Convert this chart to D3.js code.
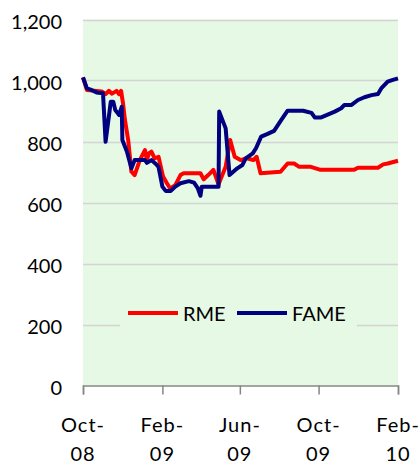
<!DOCTYPE html>
<html>
<head>
<meta charset="utf-8">
<script src="https://cdn.jsdelivr.net/npm/d3@7"></script>
<style>
  html, body { margin: 0; padding: 0; background: #ffffff; }
  svg { display: block; }
  text { font-family: Lato, "Open Sans", "Liberation Sans", sans-serif; fill: #000; }
</style>
</head>
<body>
<svg id="chart" width="419" height="464"></svg>
<script>
// ---- data ----
const seriesNames = ["RME", "FAME"];
const rmeDates = ["2008-10-01","2008-10-07","2008-10-22","2008-10-30","2008-11-05","2008-11-10","2008-11-15","2008-11-22","2008-11-26","2008-11-29","2008-12-02","2008-12-05","2008-12-10","2008-12-15","2008-12-20","2008-12-28","2009-01-05","2009-01-08","2009-01-11","2009-01-15","2009-01-20","2009-01-26","2009-02-02","2009-02-08","2009-02-13","2009-02-21","2009-03-01","2009-03-06","2009-04-01","2009-04-06","2009-04-13","2009-04-21","2009-04-29","2009-05-10","2009-05-17","2009-05-24","2009-06-02","2009-06-12","2009-06-22","2009-06-27","2009-07-03","2009-08-03","2009-08-14","2009-08-24","2009-09-01","2009-09-19","2009-10-04","2009-11-25","2009-12-01","2010-01-01","2010-01-09","2010-01-16","2010-02-01"];
const rmeValues = [1010,969,966,964,955,966,957,966,955,966,925,870,805,701,690,739,772,739,761,767,745,750,685,663,646,657,690,696,696,676,690,707,660,717,805,750,739,745,739,750,696,701,728,728,717,717,707,707,714,714,725,728,737];
const fameDates = ["2008-10-01","2008-10-07","2008-10-14","2008-10-22","2008-11-01","2008-11-05","2008-11-13","2008-11-17","2008-11-20","2008-11-26","2008-11-30","2008-12-01","2008-12-08","2008-12-15","2008-12-20","2009-01-05","2009-01-08","2009-01-15","2009-01-21","2009-01-26","2009-02-01","2009-02-06","2009-02-14","2009-02-21","2009-03-01","2009-03-14","2009-03-22","2009-03-28","2009-04-01","2009-04-03","2009-04-29","2009-04-30","2009-05-10","2009-05-16","2009-05-28","2009-06-05","2009-06-10","2009-06-21","2009-06-26","2009-07-04","2009-07-14","2009-07-24","2009-08-04","2009-08-14","2009-09-07","2009-09-20","2009-09-25","2009-10-05","2009-10-16","2009-10-26","2009-11-05","2009-11-10","2009-11-21","2009-12-01","2009-12-11","2009-12-22","2010-01-01","2010-01-06","2010-01-16","2010-01-24","2010-02-01"];
const fameValues = [1010,974,969,961,958,799,930,930,903,887,914,805,767,712,739,739,730,739,728,717,652,638,638,652,663,670,665,646,622,652,652,898,843,690,712,723,745,761,778,816,825,835,870,901,901,894,879,879,889,898,909,920,920,936,945,952,956,974,996,1002,1007];
const yTicks = [0,200,400,600,800,1000,1200];
const xTickDates = ["2008-10-01","2009-02-01","2009-06-01","2009-10-01","2010-02-01"];
const xTickLabels = [["Oct-","08"],["Feb-","09"],["Jun-","09"],["Oct-","09"],["Feb-","10"]];
const colors = ["#ff0000", "#000080"];

// ---- chart ----
const parse = d3.timeParse("%Y-%m-%d");
const svg = d3.select("#chart");
const L = 83, R = 398, T = 19.5, B = 385.5;

const x = d3.scaleTime().domain([parse("2008-10-01"), parse("2010-02-01")]).range([L, R]);
const y = d3.scaleLinear().domain([0, 1200]).range([B, T]);

// plot background
svg.append("rect").attr("x", L).attr("y", T).attr("width", R - L).attr("height", B - T)
  .attr("fill", "#e6f9e4");

// gridlines
svg.append("g").selectAll("line").data(yTicks.filter(v => v > 0)).join("line")
  .attr("x1", L).attr("x2", R)
  .attr("y1", d => Math.round(y(d)) + 0.5).attr("y2", d => Math.round(y(d)) + 0.5)
  .attr("stroke", "#d4d4d4").attr("stroke-width", 1.5);

// y labels
svg.append("g").selectAll("text").data(yTicks).join("text")
  .attr("x", 62).attr("y", d => y(d) + 9)
  .attr("text-anchor", "end").attr("font-size", 20)
  .text(d => d3.format(",")(d));

// x axis
const xAxis = d3.axisBottom(x)
  .tickValues(xTickDates.map(parse))
  .tickSize(9).tickFormat("");
const gx = svg.append("g").attr("transform", `translate(0,${B})`).call(xAxis);
gx.select(".domain").attr("stroke", "#868686").attr("stroke-width", 1.5);
gx.selectAll(".tick line").attr("stroke", "#868686").attr("stroke-width", 1.5);

svg.append("g").selectAll("text").data(xTickDates).join("text")
  .attr("text-anchor", "middle").attr("font-size", 20).attr("letter-spacing", 1)
  .attr("transform", d => `translate(${x(parse(d))},0)`)
  .each(function(d, i) {
    const t = d3.select(this);
    t.append("tspan").attr("x", 0).attr("y", 432).text(xTickLabels[i][0]);
    t.append("tspan").attr("x", 0).attr("y", 461).text(xTickLabels[i][1]);
  });

// lines
const line = d3.line().x(d => x(d[0])).y(d => y(d[1]));
const rmeData = rmeDates.map((d, i) => [parse(d), rmeValues[i]]);
const fameData = fameDates.map((d, i) => [parse(d), fameValues[i]]);
[rmeData, fameData].forEach((data, i) => {
  svg.append("path").datum(data).attr("d", line)
    .attr("fill", "none").attr("stroke", colors[i]).attr("stroke-width", 4)
    .attr("stroke-linejoin", "round");
});

// legend
const lg = svg.append("g");
lg.append("rect").attr("x", 120).attr("y", 300).attr("width", 237).attr("height", 30).attr("fill", "#e6f9e4");
const legendX = [128, 237];
seriesNames.forEach((n, i) => {
  lg.append("line").attr("x1", legendX[i]).attr("x2", legendX[i] + 50)
    .attr("y1", 313).attr("y2", 313).attr("stroke", colors[i]).attr("stroke-width", 4);
  lg.append("text").attr("x", legendX[i] + 55).attr("y", 321).attr("font-size", 20).text(n);
});
</script>
</body>
</html>
